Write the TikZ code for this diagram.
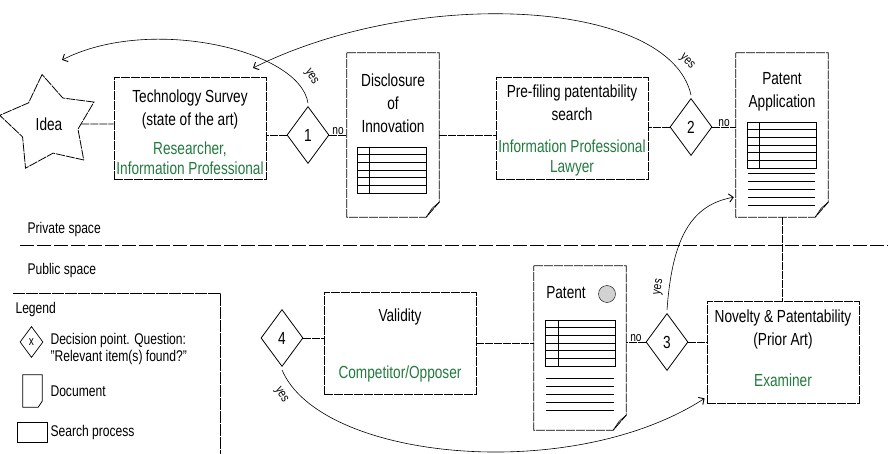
\documentclass[tikz,border=0pt]{standalone}
\usepackage{fontspec}
\setmainfont{Liberation Sans}[FakeStretch=0.78]
\usetikzlibrary{shapes.geometric,arrows.meta}
\definecolor{rolegreen}{RGB}{34,122,62}

\begin{document}
\begin{tikzpicture}[x=1pt,y=-1pt,
		sketch/.style={draw, line width=0.8pt, dash pattern=on 9pt off 1pt},
		link/.style={line width=0.7pt, dash pattern=on 8pt off 1pt},
		arc/.style={line width=0.6pt, -{Straight Barb[angle=90:6pt, line width=0.9pt]}},
		searchbox/.style={sketch, minimum width=152pt, minimum height=102pt, inner sep=0pt},
		docframe/.style={minimum width=92pt, minimum height=164pt, inner sep=0pt},
		decision/.style={draw, diamond, line width=0.8pt, minimum width=42pt, minimum height=57pt, inner sep=0pt, font=\fontsize{17.5}{17.5}\selectfont},
		main/.style={align=center, font=\fontsize{17.5}{23}\selectfont},
		role/.style={align=center, text=rolegreen, font=\fontsize{17.5}{20}\selectfont},
		lgd/.style={anchor=west, align=left, font=\fontsize{15.5}{17.5}\selectfont},
		small/.style={font=\fontsize{13}{13}\selectfont, inner sep=0.5pt}
	]
	\useasboundingbox (0,0) rectangle (888,454);
	%
	% the idea
	\node[sketch, star, star points=5, star point ratio=1.7, minimum size=100pt, inner sep=0pt, shape border rotate=8, font=\fontsize{17.5}{17.5}\selectfont] (idea) at (49,124) {Idea};
	% search processes
	\node[searchbox] (survey) at (190,128) {};
	\node[main] (survey-t) at (190,109) {Technology Survey\\(state of the art)};
	\node[role] (survey-r) at (190,158) {Researcher,\\Information Professional};
	\node[searchbox] (prefiling) at (572,128) {};
	\node[main] (prefiling-t) at (572,103) {Pre-filing patentability\\search};
	\node[role] (prefiling-r) at (572,158) {Information Professional\\Lawyer};
	\node[searchbox] (validity) at (400,343) {};
	\node[main] (validity-t) at (400,317) {Validity};
	\node[role] (validity-r) at (400,374) {Competitor/Opposer};
	\node[searchbox] (novelty) at (783,352) {};
	\node[main] (novelty-t) at (783,329) {Novelty \& Patentability\\(Prior Art)};
	\node[role] (novelty-r) at (783,380) {Examiner};
	% documents
	\node[docframe] (disc) at (393,135) {};
	\node[main] (disc-t) at (393,103) {Disclosure\\of\\Innovation};
	\node[docframe] (app) at (782,135) {};
	\node[main] (app-t) at (782,92) {Patent\\Application};
	\node[docframe] (patent) at (580,348) {};
	\node[main] (patent-t) at (566,293) {Patent};
	\node[draw, circle, fill=gray!35, minimum size=17pt, inner sep=0pt] (seal) at (607,294) {};
	\foreach \d in {disc, app, patent}{
		\draw[sketch] (\d.north west) -- (\d.north east) -- ([yshift=15pt]\d.south east) -- ([xshift=-13pt]\d.south east) -- (\d.south west) -- cycle;
		\draw[line width=0.6pt] ([yshift=15pt]\d.south east) -- ([xshift=-7pt, yshift=9pt]\d.south east) -- ([xshift=-13pt]\d.south east);
	}
	% the tables printed on the documents
	\def\tables {357/147/426/369, 747/122/816/759, 545/320/615/558};
	\foreach \xa\ya\xb\xv in \tables{
		\draw[line width=0.7pt] (\xa,\ya) rectangle (\xb,{\ya+46});
		\draw[line width=0.7pt] (\xv,\ya) -- (\xv,{\ya+46});
		\foreach \k in {1,...,5}{
			\draw[line width=0.7pt] (\xa,{\ya+\k*7.67}) -- (\xb,{\ya+\k*7.67});
		}
	}
	% text lines below the tables
	\foreach \y in {173,181,189,197,205}{
		\draw[line width=0.7pt] (748,\y) -- (815,\y);
	}
	\foreach \y in {378,386,394,402,410}{
		\draw[line width=0.7pt] (546,\y) -- (614,\y);
	}
	% decision points
	\def\decisions {d1/308/135/1, d2/691/127/2, d3/667/342/3, d4/282/338/4};
	\foreach \name\x\y\num in \decisions{
		\node[decision] (\name) at (\x,\y) {\num};
	}
	% straight links
	\def\links {idea/survey/west, d1/survey/east, disc/prefiling/west, d2/prefiling/east, d4/validity/west, validity/patent/west, d3/novelty/west};
	\foreach \s\t\side in \links{
		\draw[link] (\s) -- (\s -| \t.\side);
	}
	\def\nolinks {d1/disc/west, d2/app/west, d3/patent/east};
	\foreach \s\t\side in \nolinks{
		\draw[link] (\s) -- (\s -| \t.\side) node[midway, above, small] {no};
	}
	\draw[link] (app.south) -- (app.south |- novelty.north);
	% yes branches
	\draw[arc] ([yshift=3pt]d1.north) .. controls (300,50) and (150,15) .. (62,60);
	\node[small, rotate=-58] (yes1) at (311,77) {yes};
	\draw[arc] ([yshift=3pt]d2.north) .. controls (670,0) and (420,-15) .. (253,68);
	\node[small, rotate=-45] (yes2) at (687,62) {yes};
	\draw[arc] ([yshift=3pt]d3.north) .. controls (672,240) and (690,205) .. ([xshift=-2pt, yshift=20pt]app.south west);
	\node[small, rotate=80] (yes3) at (659,287) {yes};
	\draw[arc] ([yshift=-3pt]d4.south) .. controls (320,460) and (570,485) .. ([xshift=-2pt, yshift=5pt]novelty.south west);
	\node[small, rotate=-60] (yes4) at (281,395) {yes};
	% private / public
	\draw[line width=1pt, dash pattern=on 14pt off 3pt] (20,246) -- (888,246);
	\node[lgd] (private) at (24,229) {Private space};
	\node[lgd] (public) at (24,270) {Public space};
	% legend
	\draw[line width=0.8pt, dash pattern=on 12pt off 1pt] (13,293) -- (220,293) -- (220,454);
	\node[lgd] (legend) at (12,309) {Legend};
	\node[draw, diamond, line width=0.7pt, minimum width=23pt, minimum height=31pt, inner sep=0pt, font=\fontsize{13}{13}\selectfont] (key-dec) at (31.5,342) {x};
	\node[lgd] (key-dec-t) at (47,349) {Decision point. Question:\\"Relevant item(s) found?"};
	\node[minimum width=19pt, minimum height=32pt, inner sep=0pt] (key-doc) at (32.5,391) {};
	\draw[line width=0.7pt] (key-doc.north west) -- (key-doc.north east) -- ([yshift=6pt]key-doc.south east) -- ([xshift=-4pt]key-doc.south east) -- (key-doc.south west) -- cycle;
	\node[lgd] (key-doc-t) at (47,391) {Document};
	\node[draw, line width=0.7pt, minimum width=30pt, minimum height=20pt, inner sep=0pt] (key-box) at (32,432) {};
	\node[lgd] (key-box-t) at (47,432) {Search process};
\end{tikzpicture}
\end{document}
